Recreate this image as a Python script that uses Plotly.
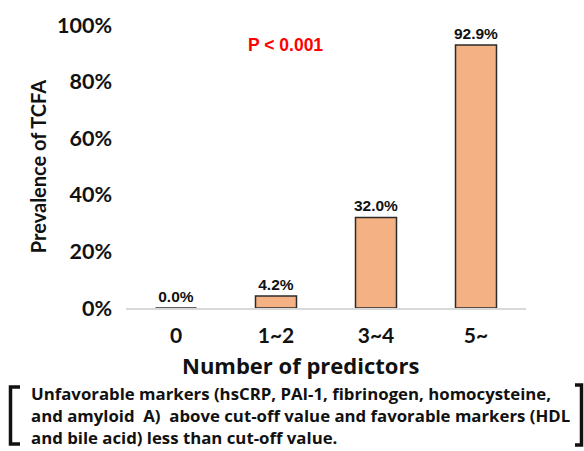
import plotly.graph_objects as go

# Prevalence of TCFA by number of predictors
categories = ["0", "1~2", "3~4", "5~"]
prevalence = [0.0, 0.042, 0.320, 0.929]
y_ticks = [0, 0.2, 0.4, 0.6, 0.8, 1.0]

W, H = 584, 451
L, R, T, B = 126, 58, 21, 143
PW, PH = W - L - R, H - T - B


def px(x):
    return (x - L) / PW


def py(y):
    return (H - B - y) / PH


fig = go.Figure(
    go.Bar(
        x=categories,
        y=prevalence,
        width=0.41,
        marker=dict(color="#F4B183", line=dict(color="#2B2B2B", width=1.5)),
        texttemplate="%{y:.1%}",
        textposition="outside",
        constraintext="none",
        textfont=dict(family="Liberation Sans", size=15.5, color="#111111", weight="bold"),
        cliponaxis=False,
    )
)

note = ("Unfavorable markers (hsCRP, PAI-1, fibrinogen, homocysteine,<br>"
        "and amyloid  A)  above cut-off value and favorable markers (HDL<br>"
        "and bile acid) less than cut-off value.")

annotations = [
    dict(text="P < 0.001", x=px(285), y=py(41), xref="paper", yref="paper",
         xanchor="center", yanchor="middle", showarrow=False,
         font=dict(family="Liberation Sans", size=17.5, color="#FF0000", weight="bold")),
    dict(text="Number of predictors", x=px(300), y=py(366), xref="paper", yref="paper",
         xanchor="center", yanchor="middle", showarrow=False,
         font=dict(family="Open Sans", size=22, color="#111111", weight="bold")),
    dict(text=note, x=px(29), y=py(417), xref="paper", yref="paper",
         xanchor="left", yanchor="middle", align="left", showarrow=False,
         font=dict(family="Open Sans", size=16.8, color="#111111", weight="bold")),
]

bracket_style = dict(color="#111111", width=3.5)
shapes = [
    dict(type="path", xref="paper", yref="paper",
         path=f"M {px(20)} {py(388)} L {px(10.5)} {py(388)} L {px(10.5)} {py(446)} L {px(20)} {py(446)}",
         line=bracket_style),
    dict(type="path", xref="paper", yref="paper",
         path=f"M {px(575)} {py(386)} L {px(581.5)} {py(386)} L {px(581.5)} {py(447)} L {px(575)} {py(447)}",
         line=bracket_style),
]

fig.update_layout(
    width=W, height=H,
    margin=dict(l=L, r=R, t=T, b=B, pad=0),
    paper_bgcolor="white", plot_bgcolor="white",
    showlegend=False,
    annotations=annotations,
    shapes=shapes,
    font=dict(family="Lato", color="#111111"),
)
fig.update_xaxes(
    showline=True, linecolor="#D9D9D9", linewidth=2,
    showgrid=False, ticks="", range=[-0.5, 3.5],
    tickfont=dict(family="Lato", size=21, color="#111111", weight="bold"),
    ticklabelstandoff=8,
)
fig.update_yaxes(
    range=[0, 1.0], tickvals=y_ticks, tickformat=".0%",
    showgrid=False, zeroline=False, showline=False, ticks="",
    tickfont=dict(family="Lato", size=21.5, color="#111111", weight="bold"),
    title=dict(text="Prevalence of TCFA",
               font=dict(family="Lato", size=20, color="#111111", weight="bold"),
               standoff=4),
    ticklabelstandoff=13,
)

fig.write_html("out.html")
